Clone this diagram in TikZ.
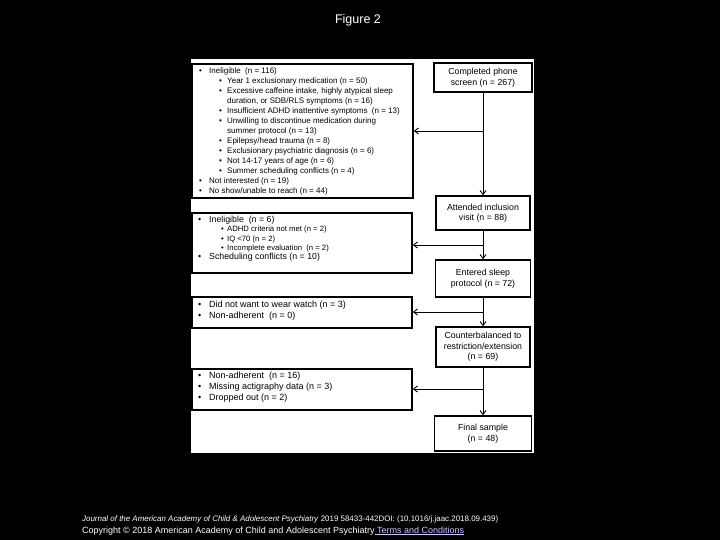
\documentclass[tikz,border=0pt]{standalone}
\usepackage{fontspec}
\setmainfont{Liberation Sans}
\usepackage{graphicx}
\usetikzlibrary{arrows.meta}
\definecolor{termcol}{HTML}{C8C8FF}
\begin{document}
\begin{tikzpicture}[x=1pt,y=-1pt,
  box/.style={draw=black,line width=1.5pt,inner sep=0pt,fill=white},
  rbox/.style={box,align=center,font=\fontsize{8.8}{10.5}\selectfont},
  txt/.style={inner sep=0pt,anchor=west,align=left},
  flow/.style={line width=0.9pt,-{Straight Barb[length=4pt,width=6pt]}}]
\useasboundingbox (0,0) rectangle (720,540);
\fill[black] (0,0) rectangle (720,540);
\fill[white] (191,59) rectangle (534,453);

\node[text=white,font=\fontsize{12.5}{14}\selectfont] (title) at (358,20) {Figure 2};

% right column
\node[rbox,minimum width=98pt,minimum height=29pt] (R1) at (483,77.5) {Completed phone\\screen (n = 267)};
\node[rbox,minimum width=94pt,minimum height=34pt] (R2) at (483,213) {Attended inclusion\\visit (n = 88)};
\node[rbox,minimum width=95pt,minimum height=37pt] (R3) at (483,278.5) {Entered sleep\\protocol (n = 72)};
\node[rbox,minimum width=94pt,minimum height=40pt] (R4) at (483,347) {Counterbalanced to\\restriction/extension\\(n = 69)};
\node[rbox,minimum width=97pt,minimum height=35pt] (R5) at (483,433.5) {Final sample\\(n = 48)};

% left column boxes
\node[box,minimum width=221pt,minimum height=134pt] (L1) at (302.5,131) {};
\node[box,minimum width=220pt,minimum height=60pt] (L2) at (302,243) {};
\node[box,minimum width=220pt,minimum height=31pt] (L3) at (302,312.5) {};
\node[box,minimum width=220pt,minimum height=41pt] (L4) at (302,389.5) {};

% left texts
\node[txt,font=\fontsize{8}{10}\selectfont] (L1t) at (199,131) {%
\makebox[10pt][l]{\textbullet}Ineligible\ \ (n = 116)\\
\hspace*{20pt}\makebox[8pt][l]{\textbullet}Year 1 exclusionary medication (n = 50)\\
\hspace*{20pt}\makebox[8pt][l]{\textbullet}Excessive caffeine intake, highly atypical sleep\\
\hspace*{28pt}duration, or SDB/RLS symptoms (n = 16)\\
\hspace*{20pt}\makebox[8pt][l]{\textbullet}Insufficient ADHD inattentive symptoms\ \ (n = 13)\\
\hspace*{20pt}\makebox[8pt][l]{\textbullet}Unwilling to discontinue medication during\\
\hspace*{28pt}summer protocol (n = 13)\\
\hspace*{20pt}\makebox[8pt][l]{\textbullet}Epilepsy/head trauma (n = 8)\\
\hspace*{20pt}\makebox[8pt][l]{\textbullet}Exclusionary psychiatric diagnosis (n = 6)\\
\hspace*{20pt}\makebox[8pt][l]{\textbullet}Not 14-17 years of age (n = 6)\\
\hspace*{20pt}\makebox[8pt][l]{\textbullet}Summer scheduling conflicts (n = 4)\\
\makebox[10pt][l]{\textbullet}Not interested (n = 19)\\
\makebox[10pt][l]{\textbullet}No show/unable to reach (n = 44)};

\node[txt,font=\fontsize{8.8}{9.3}\selectfont] (L2t) at (198,239) {%
\makebox[11pt][l]{\textbullet}Ineligible\ \ (n = 6)\\
{\fontsize{7.7}{9.3}\selectfont\hspace*{23pt}\makebox[6pt][l]{\textbullet}ADHD criteria not met (n = 2)}\\
{\fontsize{7.7}{9.3}\selectfont\hspace*{23pt}\makebox[6pt][l]{\textbullet}IQ <70 (n = 2)}\\
{\fontsize{7.7}{9.3}\selectfont\hspace*{23pt}\makebox[6pt][l]{\textbullet}Incomplete evaluation\ \ (n = 2)}\\
\makebox[11pt][l]{\textbullet}Scheduling conflicts (n = 10)};

\node[txt,font=\fontsize{9}{11}\selectfont] (L3t) at (198,310.5) {%
\makebox[11pt][l]{\textbullet}Did not want to wear watch (n = 3)\\
\makebox[11pt][l]{\textbullet}Non-adherent\ \ (n = 0)};

\node[txt,font=\fontsize{9}{11}\selectfont] (L4t) at (198,387) {%
\makebox[11pt][l]{\textbullet}Non-adherent\ \ (n = 16)\\
\makebox[11pt][l]{\textbullet}Missing actigraphy data (n = 3)\\
\makebox[11pt][l]{\textbullet}Dropped out (n = 2)};

% connectors
\coordinate (b1) at (483,131);
\coordinate (b2) at (483,245);
\coordinate (b3) at (483,312);
\coordinate (b4) at (483,389);
\draw[flow] (R1) -- (R2);
\draw[flow] (R2) -- (R3);
\draw[flow] (R3) -- (R4);
\draw[flow] (R4) -- (R5);
\draw[flow] (b1) -- (b1 -| L1.east);
\draw[flow] (b2) -- (b2 -| L2.east);
\draw[flow] (b3) -- (b3 -| L3.east);
\draw[flow] (b4) -- (b4 -| L4.east);

% footer
\node[anchor=west,text=white,inner sep=0pt] (f1) at (82,519) {\resizebox{416pt}{!}{\textit{Journal of the American Academy of Child \& Adolescent Psychiatry} 2019 58433-442DOI: (10.1016/j.jaac.2018.09.439)}};
\node[anchor=west,text=white,inner sep=0pt] (f2) at (82,531) {\resizebox{382pt}{!}{Copyright \textcopyright{} 2018 American Academy of Child and Adolescent Psychiatry\textcolor{termcol}{\underline{\ Terms and Conditions}}}};
\end{tikzpicture}
\end{document}
